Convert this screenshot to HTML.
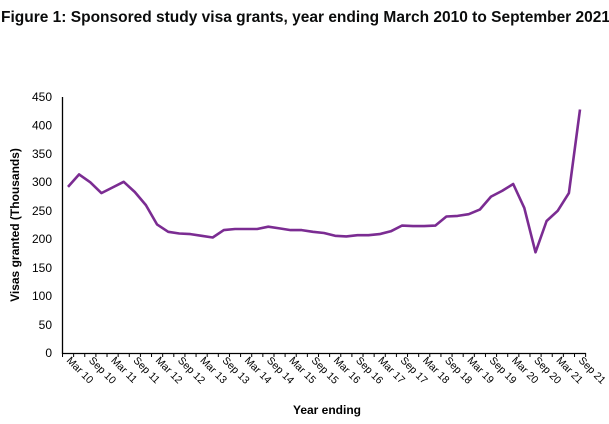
<!DOCTYPE html>
<html><head><meta charset="utf-8"><style>
html,body{margin:0;padding:0;background:#fff;}
body{width:609px;height:419px;overflow:hidden;font-family:"Liberation Sans",sans-serif;}
</style></head><body>
<svg width="609" height="419" viewBox="0 0 609 419" xmlns="http://www.w3.org/2000/svg" font-family="Liberation Sans, sans-serif">
<defs>
<pattern id="tk" x="62" y="353" width="11.1304" height="5" patternUnits="userSpaceOnUse">
<rect x="0" y="0" width="1" height="5" fill="#000"/>
</pattern>
</defs>
<text x="1" y="22" font-size="15.5" font-weight="bold" fill="#0b0c0c">Figure 1: Sponsored study visa grants, year ending March 2010 to September 2021</text>
<g font-size="12" fill="#000" text-anchor="end">
<text x="52" y="101">450</text><text x="52" y="129.5">400</text><text x="52" y="158">350</text><text x="52" y="186">300</text><text x="52" y="215">250</text><text x="52" y="243">200</text><text x="52" y="272">150</text><text x="52" y="300">100</text><text x="52" y="329">50</text><text x="52" y="357">0</text>
</g>
<text transform="translate(19,225) rotate(-90)" font-size="12" font-weight="bold" text-anchor="middle">Visas granted (Thousands)</text>
<text x="327" y="414" font-size="12" font-weight="bold" text-anchor="middle">Year ending</text>
<rect x="62" y="353" width="525" height="4" fill="url(#tk)"/>
<g stroke="#000" stroke-width="1.3" fill="none">
<line x1="62.5" y1="97" x2="62.5" y2="354"/>
<line x1="62" y1="353.5" x2="586" y2="353.5"/>
</g>
<g font-size="10.5" fill="#000">
<text transform="translate(66,361) rotate(45)">Mar 10</text>
<text transform="translate(88.3,361) rotate(45)">Sep 10</text>
<text transform="translate(110.5,361) rotate(45)">Mar 11</text>
<text transform="translate(132.8,361) rotate(45)">Sep 11</text>
<text transform="translate(155,361) rotate(45)">Mar 12</text>
<text transform="translate(177.3,361) rotate(45)">Sep 12</text>
<text transform="translate(199.6,361) rotate(45)">Mar 13</text>
<text transform="translate(221.8,361) rotate(45)">Sep 13</text>
<text transform="translate(244.1,361) rotate(45)">Mar 14</text>
<text transform="translate(266.3,361) rotate(45)">Sep 14</text>
<text transform="translate(288.6,361) rotate(45)">Mar 15</text>
<text transform="translate(310.9,361) rotate(45)">Sep 15</text>
<text transform="translate(333.1,361) rotate(45)">Mar 16</text>
<text transform="translate(355.4,361) rotate(45)">Sep 16</text>
<text transform="translate(377.6,361) rotate(45)">Mar 17</text>
<text transform="translate(399.9,361) rotate(45)">Sep 17</text>
<text transform="translate(422.2,361) rotate(45)">Mar 18</text>
<text transform="translate(444.4,361) rotate(45)">Sep 18</text>
<text transform="translate(466.7,361) rotate(45)">Mar 19</text>
<text transform="translate(488.9,361) rotate(45)">Sep 19</text>
<text transform="translate(511.2,361) rotate(45)">Mar 20</text>
<text transform="translate(533.5,361) rotate(45)">Sep 20</text>
<text transform="translate(555.7,361) rotate(45)">Mar 21</text>
<text transform="translate(578,361) rotate(45)">Sep 21</text>
</g>
<polyline fill="none" stroke="#7b2c92" stroke-width="2.6" stroke-linejoin="round" points="68.0,186.9 79.1,174.4 90.3,182.3 101.4,193.1 112.5,187.5 123.7,181.8 134.8,192.0 145.9,205.1 157.0,224.4 168.2,231.8 179.3,233.5 190.4,234.1 201.6,235.8 212.7,237.5 223.8,230.1 235.0,229.0 246.1,229.0 257.2,229.0 268.3,226.7 279.5,228.4 290.6,230.1 301.7,230.1 312.9,231.8 324.0,233.0 335.1,235.8 346.3,236.4 357.4,235.2 368.5,235.2 379.7,234.1 390.8,231.3 401.9,225.6 413.0,226.1 424.2,226.1 435.3,225.6 446.4,216.5 457.6,215.9 468.7,214.2 479.8,209.6 491.0,196.6 502.1,190.9 513.2,184.0 524.3,207.9 535.5,252.3 546.6,221.0 557.7,210.8 568.9,193.1 580.0,109.5"/>
</svg>
</body></html>
